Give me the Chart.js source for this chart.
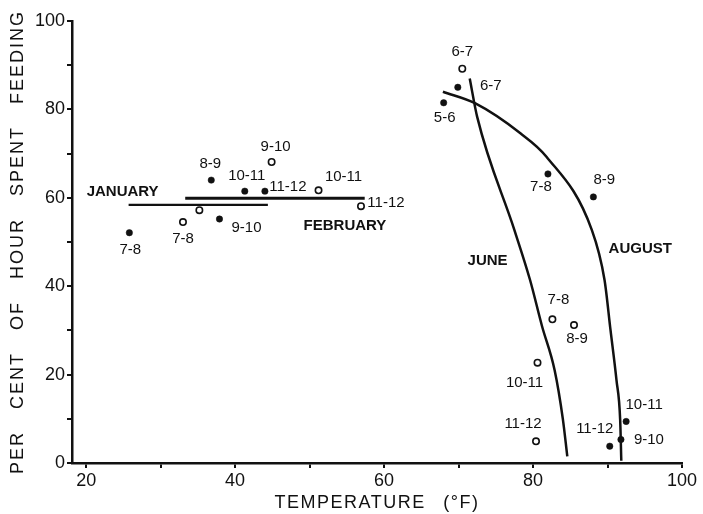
<!DOCTYPE html>
<html>
<head>
<meta charset="utf-8">
<script src="https://cdn.jsdelivr.net/npm/chart.js@4/dist/chart.umd.min.js"></script>
<style>
html,body{margin:0;padding:0;background:#fff;}
#wrap{width:703px;height:514px;}
</style>
</head>
<body>
<div id="wrap"><canvas id="c" width="703" height="514"></canvas></div>
<script>
// ---- data ----
// January: filled dots
const janHours = ['7-8', '8-9', '9-10', '10-11', '11-12'];
const janTemp  = [25.8, 36.8, 37.9, 41.3, 44.0];
const janFeed  = [52.1, 64.0, 55.2, 61.5, 61.5];
// February: open circles
const febHours = ['7-8', '', '9-10', '10-11', '11-12'];
const febTemp  = [33.0, 35.2, 44.9, 51.2, 56.9];
const febFeed  = [54.5, 57.2, 68.1, 61.7, 58.1];
// June: open circles
const junHours = ['6-7', '7-8', '8-9', '10-11', '11-12'];
const junTemp  = [70.5, 82.6, 85.5, 80.6, 80.4];
const junFeed  = [89.2, 32.5, 31.2, 22.7, 4.9];
// August: filled dots
const augHours = ['5-6', '6-7', '7-8', '8-9', '9-10', '10-11', '11-12'];
const augTemp  = [68.0, 69.9, 82.0, 88.1, 91.8, 92.5, 90.3];
const augFeed  = [81.5, 85.0, 65.4, 60.2, 5.3, 9.4, 3.8];
// fitted lines drawn on the figure
const janLineTemp = [25.7, 44.4];
const janLineFeed = [58.4, 58.4];
const febLineTemp = [33.3, 57.4];
const febLineFeed = [59.9, 59.9];
const junLineTemp = [71.5, 72.5, 77.5, 79.6, 81.2, 82.9, 84.0, 84.6];
const junLineFeed = [87.0, 78.3, 52.7, 41.4, 31.0, 21.0, 10.0, 1.5];
const augLineTemp = [67.9, 72.2, 78.3, 81.8, 87.9, 89.6, 90.4, 91.2, 91.7, 91.85];
const augLineFeed = [84.0, 81.4, 74.6, 69.3, 52.7, 41.4, 30.1, 18.8, 9.7, 0.5];
// series names
const seriesNames = ['JANUARY', 'FEBRUARY', 'JUNE', 'AUGUST'];
// axis ticks
const xTicks = [20, 30, 40, 50, 60, 70, 80, 90, 100];
const yTicks = [0, 10, 20, 30, 40, 50, 60, 70, 80, 90, 100];
const xTitle = 'TEMPERATURE (°F)';
const yTitle = 'PER CENT OF HOUR SPENT FEEDING';

// ---- annotation placement (styling, pixel offsets of each hour label) ----
const janLabelOff = [[1,17],[-1,-16],[27,9],[2,-15],[23,-4]];
const febLabelOff = [[0,17],[0,0],[4,-15],[25,-13],[25,-3]];
const junLabelOff = [[0,-17],[6,-19],[3,14],[-13,20],[-13,-17]];
const augLabelOff = [[1,15],[33,-1],[-7,13],[11,-17],[28,0],[18,-17],[-15,-17]];
// series-name anchors in data units (temperature, percent)
const nameAnchorTemp = [24.9, 54.75, 73.9, 94.4];
const nameAnchorFeed = [61.4, 53.6, 45.8, 48.4];

const zip = (xs, ys) => xs.map((x, i) => ({x: x, y: ys[i]}));
const FONT = "'Liberation Sans', Arial, sans-serif";
const INK = '#111';

const labelPlugin = {
  id: 'hourLabels',
  afterDatasetsDraw(chart) {
    const ctx = chart.ctx;
    const xs = chart.scales.x, ys = chart.scales.y;
    const groups = [
      [janTemp, janFeed, janHours, janLabelOff],
      [febTemp, febFeed, febHours, febLabelOff],
      [junTemp, junFeed, junHours, junLabelOff],
      [augTemp, augFeed, augHours, augLabelOff]
    ];
    ctx.save();
    ctx.fillStyle = INK;
    ctx.textAlign = 'center';
    ctx.textBaseline = 'middle';
    ctx.font = '15px ' + FONT;
    groups.forEach(([tx, fy, lab, off]) => {
      lab.forEach((t, i) => {
        if (!t) return;
        const px = xs.getPixelForValue(tx[i]) + off[i][0];
        const py = ys.getPixelForValue(fy[i]) + off[i][1];
        ctx.fillText(t, px, py);
      });
    });
    ctx.font = 'bold 15px ' + FONT;
    seriesNames.forEach((n, i) => {
      ctx.fillText(n, xs.getPixelForValue(nameAnchorTemp[i]), ys.getPixelForValue(nameAnchorFeed[i]));
    });
    ctx.restore();
  }
};

const titleSpacing = {
  id: 'titleSpacing',
  afterLayout(chart) {
    Object.values(chart.scales).forEach(s => {
      if (s._spacedTitle) return;
      const orig = s.drawTitle;
      s.drawTitle = function () {
        const c = this.ctx;
        c.save();
        if (this.isHorizontal()) { c.letterSpacing = '1.5px'; c.wordSpacing = '11px'; }
        else { c.letterSpacing = '2px'; c.wordSpacing = '15px'; }
        orig.call(this);
        c.restore();
      };
      s._spacedTitle = true;
    });
  }
};

const lineDs = (tx, fy, w, smooth) => ({
  type: 'line', data: zip(tx, fy), borderColor: INK, borderWidth: w,
  pointRadius: 0, fill: false, showLine: true,
  cubicInterpolationMode: smooth ? 'monotone' : 'default', tension: 0
});
const filledDs = (tx, fy) => ({
  data: zip(tx, fy), pointRadius: 3.2, pointBackgroundColor: INK,
  pointBorderColor: INK, pointBorderWidth: 0.5, showLine: false
});
const openDs = (tx, fy) => ({
  data: zip(tx, fy), pointRadius: 3.2, pointBackgroundColor: '#fff',
  pointBorderColor: INK, pointBorderWidth: 1.6, showLine: false
});

new Chart(document.getElementById('c'), {
  type: 'scatter',
  data: {
    datasets: [
      lineDs(janLineTemp, janLineFeed, 2.2, false),
      lineDs(febLineTemp, febLineFeed, 3, false),
      lineDs(junLineTemp, junLineFeed, 2.5, true),
      lineDs(augLineTemp, augLineFeed, 2.5, true),
      filledDs(janTemp, janFeed),
      openDs(febTemp, febFeed),
      openDs(junTemp, junFeed),
      filledDs(augTemp, augFeed)
    ]
  },
  options: {
    responsive: false,
    animation: false,
    devicePixelRatio: 1,
    layout: { padding: { left: 0, right: 21, top: 21, bottom: 0 } },
    plugins: { legend: { display: false }, tooltip: { enabled: false } },
    scales: {
      x: {
        type: 'linear', min: 18.1, max: 100, position: 'bottom',
        afterBuildTicks: s => { s.ticks = xTicks.map(v => ({value: v})); },
        afterFit: s => { s.height = 51; },
        ticks: {
          autoSkip: false, maxRotation: 0, padding: 2, color: INK,
          font: { family: FONT, size: 18 },
          callback: v => (v % 20 === 0 ? String(v) : '')
        },
        grid: { drawOnChartArea: false, drawTicks: true, tickLength: 5, color: INK, lineWidth: 2 },
        border: { display: true, color: INK, width: 2.5 },
        title: { display: true, text: xTitle, color: INK, font: { family: FONT, size: 18 }, padding: { top: 0, bottom: 0 } }
      },
      y: {
        type: 'linear', min: 0, max: 100, position: 'left',
        afterBuildTicks: s => { s.ticks = yTicks.map(v => ({value: v})); },
        afterFit: s => { s.width = 72; },
        ticks: {
          autoSkip: false, padding: 2, color: INK,
          font: { family: FONT, size: 18 },
          callback: v => (v % 20 === 0 ? String(v) : '')
        },
        grid: { drawOnChartArea: false, drawTicks: true, tickLength: 5, color: INK, lineWidth: 2 },
        border: { display: true, color: INK, width: 2.5 },
        title: { display: true, text: yTitle, color: INK, font: { family: FONT, size: 18 }, padding: { top: 7, bottom: 0 } }
      }
    }
  },
  plugins: [labelPlugin, titleSpacing]
});
</script>
</body>
</html>
